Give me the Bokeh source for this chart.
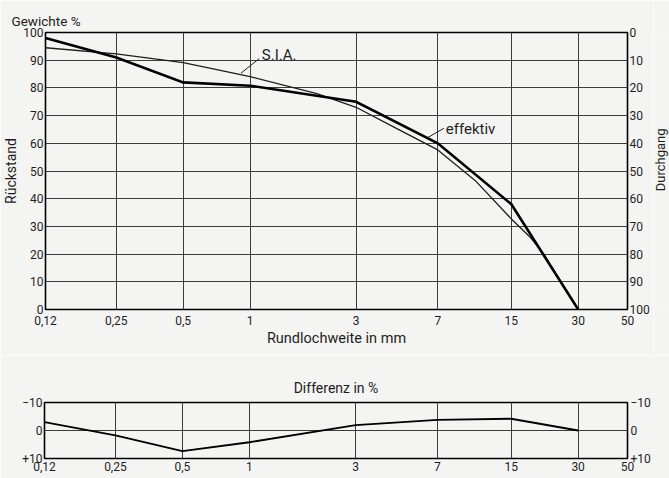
import math
from bokeh.plotting import figure
from bokeh.layouts import column, row
from bokeh.models import FixedTicker, CustomJSTickFormatter, LinearAxis, Range1d, Label
from bokeh.core.properties import value
from bokeh.embed import file_html
from bokeh.resources import INLINE

# ---- data ----
sizes = [0.12, 0.25, 0.5, 1, 3, 7, 15, 30]
x_ticks = [0.12, 0.25, 0.5, 1, 3, 7, 15, 30, 50]
effektiv = [98, 91, 82, 80.8, 75, 60, 38, 0]
sia_x = [0.12, 0.25, 0.5, 0.7, 1, 2, 3, 4.6, 7, 10.3, 15, 18.3, 21, 30]
sia_y = [94.5, 92.3, 89.1, 86.7, 84.1, 77.9, 73.0, 65.2, 57.6, 46.6, 32.7, 26, 20, 0]
differenz = [-3, 1.7, 7.4, 4.2, -1.9, -3.8, -4.2, 0]
y_ticks = list(range(0, 101, 10))
diff_ticks = [-10, 0, 10]

# annotation anchors (data units)
sia_label_pos = (1.13, 91.7)
sia_leader_x = [0.91, 1.1]
sia_leader_y = [85.3, 90.6]
eff_label_pos = (7.6, 65.3)
eff_leader_x = [6.28, 7.45]
eff_leader_y = [62.0, 65.4]
durchgang_label_pos = (0.42, 54)   # in the side strip, Rückstand units

FONT = "Roboto"
INK = "#1e1e1e"
PAPER = "#f4f4f2"
GRID = "#3c3c3c"

x_fmt = CustomJSTickFormatter(code="return String(tick).replace('.', ',');")
d_fmt = CustomJSTickFormatter(code="if (tick > 0) {return '+' + tick;} if (tick < 0) {return '\\u2212' + (-tick);} return '0';")


def style_axis(ax, standoff=3, size="12px"):
    ax.axis_line_color = None
    ax.major_tick_line_color = None
    ax.minor_tick_line_color = None
    ax.major_tick_out = 0
    ax.major_tick_in = 0
    ax.major_label_standoff = standoff
    ax.major_label_text_font = FONT
    ax.major_label_text_font_size = size
    ax.major_label_text_color = INK
    ax.axis_label_text_font = FONT
    ax.axis_label_text_font_style = "normal"
    ax.axis_label_text_color = INK
    ax.axis_label_text_font_size = "14px"


def base_fig(width, height, y_range, top, bottom, right):
    p = figure(width=width, height=height, x_axis_type="log",
               x_range=Range1d(0.12, 50), y_range=y_range,
               output_backend="svg", toolbar_location=None,
               min_border_left=44, min_border_right=right,
               min_border_top=top, min_border_bottom=bottom)
    p.background_fill_color = PAPER
    p.border_fill_color = PAPER
    p.outline_line_color = "black"
    p.outline_line_width = 1.6
    p.xaxis.ticker = FixedTicker(ticks=x_ticks)
    p.xaxis.formatter = x_fmt
    p.xgrid.ticker = FixedTicker(ticks=x_ticks)
    p.xgrid.grid_line_color = GRID
    p.xgrid.grid_line_width = 1
    p.ygrid.grid_line_color = GRID
    p.ygrid.grid_line_width = 1
    p.title.text_font = FONT
    p.title.text_font_style = "normal"
    p.title.text_color = INK
    return p


# ---- top chart ----
p1 = base_fig(653, 355, Range1d(0, 100), 32, 46, 26)
p1.title.text = "Gewichte %"
p1.title.align = "left"
p1.title.offset = -34
p1.title.standoff = 7
p1.title.text_font_size = "13.5px"

p1.yaxis.ticker = FixedTicker(ticks=y_ticks)
p1.ygrid.ticker = FixedTicker(ticks=y_ticks)
p1.xaxis.axis_label = "Rundlochweite in mm"
p1.xaxis.axis_label_standoff = 2
style_axis(p1.xaxis[0], standoff=6)
p1.xaxis.axis_label_text_font_size = "14.5px"
style_axis(p1.yaxis[0], standoff=2)
p1.yaxis.axis_label = "Rückstand"
p1.yaxis.axis_label_standoff = 1

p1.extra_y_ranges = {"dg": Range1d(100, 0)}
right1 = LinearAxis(y_range_name="dg", ticker=FixedTicker(ticks=y_ticks))
style_axis(right1, standoff=2)
p1.add_layout(right1, "right")

p1.line(sia_x, sia_y, line_color=INK, line_width=1.3)
p1.line(sizes, effektiv, line_color="black", line_width=2.6, line_join="miter")
p1.line(sia_leader_x, sia_leader_y, line_color=INK, line_width=1)
p1.line(eff_leader_x, eff_leader_y, line_color=INK, line_width=1)

p1.add_layout(Label(x=sia_label_pos[0], y=sia_label_pos[1], text="S.I.A.",
                    text_font=FONT, text_font_size="15px", text_color=INK,
                    text_baseline="middle", text_align="left"))
p1.add_layout(Label(x=eff_label_pos[0], y=eff_label_pos[1], text="effektiv",
                    text_font=FONT, text_font_size="15px", text_color=INK,
                    text_baseline="middle", text_align="left"))

# side strip carrying the "Durchgang" caption (reads bottom to top)
ps = figure(width=16, height=355, x_range=Range1d(0, 1), y_range=p1.y_range,
            output_backend="svg", toolbar_location=None,
            x_axis_location=None, y_axis_location=None,
            min_border_left=0, min_border_right=0, min_border_top=32, min_border_bottom=46)
ps.background_fill_color = PAPER
ps.border_fill_color = PAPER
ps.outline_line_color = None
ps.grid.visible = False
ps.text(x=[durchgang_label_pos[0]], y=[durchgang_label_pos[1]], text=["Durchgang"],
        angle=math.pi / 2, text_font=value(FONT), text_font_size="13px",
        text_color=INK, text_align="center", text_baseline="middle")

# ---- bottom chart ----
p2 = base_fig(669, 123, Range1d(10, -10), 47, 20, 42)
p2.title.text = "Differenz in %"
p2.title.align = "center"
p2.title.standoff = 14
p2.title.text_font_size = "14px"
p2.yaxis.ticker = FixedTicker(ticks=diff_ticks)
p2.yaxis.formatter = d_fmt
p2.ygrid.ticker = FixedTicker(ticks=[0])
style_axis(p2.xaxis[0], standoff=3)
style_axis(p2.yaxis[0], standoff=2)
right2 = LinearAxis(ticker=FixedTicker(ticks=diff_ticks), formatter=d_fmt)
style_axis(right2, standoff=3)
p2.add_layout(right2, "right")

p2.line(sizes, differenz, line_color="black", line_width=1.8)

layout = column(row(p1, ps), p2)
open("out.html", "w").write(file_html(layout, INLINE))
